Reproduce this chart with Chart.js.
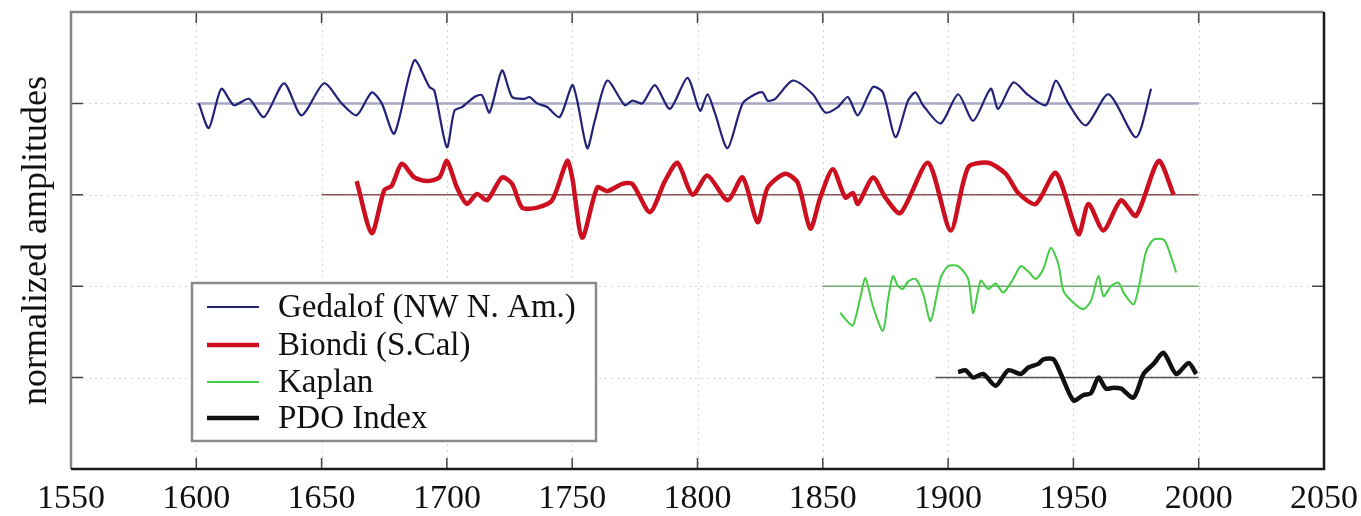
<!DOCTYPE html>
<html>
<head>
<meta charset="utf-8">
<script src="https://cdn.jsdelivr.net/npm/chart.js@4"></script>
<style>
  html, body { margin: 0; padding: 0; background: #fff; }
  #wrap { width: 1361px; height: 516px; }
</style>
</head>
<body>
<div id="wrap"><canvas id="pdoChart" width="1361" height="516"></canvas></div>
<script>
// ---- Data ----

const xTickValues = [1550, 1600, 1650, 1700, 1750, 1800, 1850, 1900, 1950, 2000, 2050];
const yTickValues = [0, 1, 2, 3];

const seriesLabels = ['Gedalof (NW N. Am.)', 'Biondi (S.Cal)', 'Kaplan', 'PDO Index'];
const seriesOffsets = [3, 2, 1, 0];
const baselineStart = [1600, 1650, 1850, 1895];
const baselineEnd = [2000, 2000, 2000, 2000];

const gedalofYears = [1601, 1605, 1610, 1615, 1621, 1627, 1635, 1642, 1651, 1658, 1664, 1670, 1674, 1679,
  1687, 1693, 1695, 1700, 1703, 1706, 1711, 1714, 1717, 1722, 1726, 1731, 1733, 1736, 1740, 1745, 1750,
  1752, 1756, 1759, 1764, 1771, 1774, 1778, 1783, 1789, 1796, 1801, 1804, 1807, 1812, 1818, 1823, 1826,
  1828, 1831, 1838, 1846, 1851, 1856, 1860, 1864, 1870, 1874, 1879, 1884, 1887, 1890, 1897, 1904, 1910,
  1917, 1920, 1926, 1932, 1939, 1943, 1948, 1955, 1964, 1975, 1981];
const gedalofValues = [0.0, -0.27, 0.16, -0.02, 0.05, -0.15, 0.22, -0.13, 0.22, 0.0, -0.13, 0.12, 0.0, -0.33,
  0.47, 0.18, 0.14, -0.48, -0.08, -0.04, 0.07, 0.09, -0.10, 0.36, 0.07, 0.05, 0.07, 0.0, -0.04, -0.15, 0.20,
  0.03, -0.49, -0.19, 0.25, -0.02, 0.03, 0.0, 0.20, -0.06, 0.28, -0.08, 0.10, -0.11, -0.49, 0.0, 0.10, 0.12,
  0.03, 0.05, 0.25, 0.10, -0.10, -0.04, 0.07, -0.13, 0.18, 0.12, -0.37, 0.03, 0.12, -0.02, -0.22, 0.10, -0.19,
  0.16, -0.06, 0.23, 0.09, -0.02, 0.25, 0.0, -0.24, 0.10, -0.37, 0.16];

const biondiYears = [1664, 1670, 1675, 1678, 1682, 1687, 1692, 1697, 1700, 1704, 1708, 1712, 1716, 1722,
  1726, 1730, 1736, 1742, 1748, 1750, 1754, 1760, 1764, 1770, 1774, 1781, 1787, 1792, 1798, 1804, 1812,
  1818, 1824, 1828, 1835, 1840, 1845, 1849, 1854, 1859, 1862, 1864, 1870, 1875, 1881, 1892, 1901, 1908,
  1916, 1923, 1928, 1935, 1943, 1952, 1956, 1962, 1969, 1975, 1984, 1990];
const biondiValues = [0.15, -0.42, 0.05, 0.10, 0.34, 0.19, 0.15, 0.19, 0.37, 0.08, -0.10, 0.01, -0.06, 0.19,
  0.12, -0.14, -0.14, -0.06, 0.37, 0.19, -0.47, 0.08, 0.04, 0.12, 0.12, -0.19, 0.15, 0.35, 0.0, 0.21, -0.06,
  0.19, -0.30, 0.08, 0.23, 0.13, -0.37, -0.03, 0.28, -0.03, 0.02, -0.10, 0.19, -0.03, -0.20, 0.35, -0.39, 0.30,
  0.35, 0.23, 0.02, -0.10, 0.24, -0.43, -0.10, -0.39, -0.06, -0.23, 0.37, 0.0];

const kaplanYears = [1857, 1859, 1862, 1865, 1867, 1870, 1874, 1876, 1878, 1880, 1882, 1884, 1887, 1890, 1893,
  1897, 1900, 1904, 1908, 1910, 1913, 1916, 1919, 1922, 1926, 1929, 1932, 1935, 1938, 1941, 1944, 1946,
  1950, 1954, 1957, 1960, 1962, 1965, 1968, 1970, 1974, 1976, 1979, 1982, 1986, 1988, 1991];
const kaplanValues = [-0.29, -0.36, -0.43, -0.12, 0.09, -0.22, -0.49, -0.15, 0.11, 0.0, -0.03, 0.05, 0.08, -0.08,
  -0.38, 0.09, 0.22, 0.22, 0.08, -0.30, 0.06, -0.03, 0.03, -0.07, 0.08, 0.22, 0.16, 0.08, 0.19, 0.42, 0.24,
  -0.05, -0.18, -0.25, -0.16, 0.11, -0.11, 0.0, 0.04, -0.07, -0.20, -0.02, 0.38, 0.51, 0.51, 0.40, 0.15];

const pdoYears = [1904, 1907, 1910, 1914, 1919, 1924, 1929, 1932, 1936, 1938, 1942, 1945, 1950, 1954, 1957,
  1960, 1963, 1966, 1969, 1974, 1978, 1982, 1986, 1991, 1996, 1999];
const pdoValues = [0.06, 0.08, 0.0, 0.04, -0.09, 0.08, 0.04, 0.11, 0.15, 0.20, 0.20, 0.04, -0.25, -0.19, -0.17,
  0.0, -0.12, -0.11, -0.12, -0.22, 0.04, 0.15, 0.27, 0.04, 0.16, 0.04];

// ---- Styling ----

const SERIES_STYLE = [
  { color: '#222278', width: 2.2 },
  { color: '#cc1020', width: 4.5 },
  { color: '#44cc44', width: 2 },
  { color: '#111111', width: 4.5 },
];
const BASELINE_STYLE = [
  { color: '#a8a8c4', width: 2.5 },
  { color: '#8c5656', width: 1.5 },
  { color: '#70a870', width: 1.5 },
  { color: '#555555', width: 1.5 },
];
const SERIF = "'Liberation Serif', 'DejaVu Serif', serif";

const allYears = [gedalofYears, biondiYears, kaplanYears, pdoYears];
const allValues = [gedalofValues, biondiValues, kaplanValues, pdoValues];

const datasets = [];
allYears.forEach((years, i) => {
  datasets.push({
    label: seriesLabels[i],
    data: years.map((yr, j) => ({ x: yr, y: allValues[i][j] + seriesOffsets[i] })),
    borderColor: SERIES_STYLE[i].color,
    borderWidth: SERIES_STYLE[i].width,
    pointRadius: 0,
    tension: 0.25,
    fill: false,
    order: 0,
  });
});
seriesOffsets.forEach((off, i) => {
  datasets.push({
    label: seriesLabels[i] + ' baseline',
    data: [{ x: baselineStart[i], y: off }, { x: baselineEnd[i], y: off }],
    borderColor: BASELINE_STYLE[i].color,
    borderWidth: BASELINE_STYLE[i].width,
    pointRadius: 0,
    fill: false,
    order: 1,
  });
});

// grid, frame with inward ticks, and the boxed legend
const decorations = {
  id: 'decorations',
  beforeDatasetsDraw(chart) {
    const { ctx, chartArea: a, scales: { x, y } } = chart;
    ctx.save();
    ctx.strokeStyle = '#d4d4d4';
    ctx.lineWidth = 1;
    ctx.setLineDash([2, 4]);
    ctx.beginPath();
    xTickValues.forEach(v => {
      const px = Math.round(x.getPixelForValue(v)) + 0.5;
      ctx.moveTo(px, a.top); ctx.lineTo(px, a.bottom);
    });
    yTickValues.forEach(v => {
      const py = Math.round(y.getPixelForValue(v)) + 0.5;
      ctx.moveTo(a.left, py); ctx.lineTo(a.right, py);
    });
    ctx.stroke();
    ctx.restore();
  },
  afterDatasetsDraw(chart) {
    const { ctx, chartArea: a, scales: { x, y } } = chart;
    ctx.save();

    // inward tick marks
    ctx.strokeStyle = '#444';
    ctx.lineWidth = 1.5;
    ctx.beginPath();
    xTickValues.forEach(v => {
      const px = x.getPixelForValue(v);
      ctx.moveTo(px, a.bottom); ctx.lineTo(px, a.bottom - 11);
      ctx.moveTo(px, a.top); ctx.lineTo(px, a.top + 11);
    });
    yTickValues.forEach(v => {
      const py = y.getPixelForValue(v);
      ctx.moveTo(a.left, py); ctx.lineTo(a.left + 12, py);
      ctx.moveTo(a.right, py); ctx.lineTo(a.right - 12, py);
    });
    ctx.stroke();

    // frame: top/left grey, right/bottom dark
    ctx.lineWidth = 2.5;
    ctx.strokeStyle = '#858585';
    ctx.beginPath();
    ctx.moveTo(a.left, a.bottom); ctx.lineTo(a.left, a.top); ctx.lineTo(a.right, a.top);
    ctx.stroke();
    ctx.strokeStyle = '#1a1a1a';
    ctx.beginPath();
    ctx.moveTo(a.right, a.top); ctx.lineTo(a.right, a.bottom); ctx.lineTo(a.left, a.bottom);
    ctx.stroke();

    // legend box
    const box = { left: 192, top: 283, width: 404, height: 158 };
    ctx.fillStyle = '#fff';
    ctx.fillRect(box.left, box.top, box.width, box.height);
    ctx.strokeStyle = '#8a8a8a';
    ctx.lineWidth = 2.5;
    ctx.strokeRect(box.left, box.top, box.width, box.height);
    const rowY = [307, 345, 382, 418];
    ctx.font = `33px ${SERIF}`;
    ctx.textBaseline = 'middle';
    ctx.textAlign = 'left';
    seriesLabels.forEach((lab, i) => {
      ctx.strokeStyle = SERIES_STYLE[i].color;
      ctx.lineWidth = SERIES_STYLE[i].width;
      ctx.beginPath();
      ctx.moveTo(207, rowY[i]); ctx.lineTo(259, rowY[i]);
      ctx.stroke();
      ctx.fillStyle = '#111';
      ctx.fillText(lab, 278, rowY[i] + 1);
    });
    ctx.restore();
  }
};

new Chart(document.getElementById('pdoChart'), {
  type: 'line',
  data: { datasets },
  plugins: [decorations],
  options: {
    responsive: false,
    animation: false,
    devicePixelRatio: 1,
    layout: { padding: { top: 12, right: 37, left: 0, bottom: 0 } },
    plugins: { legend: { display: false }, tooltip: { enabled: false } },
    scales: {
      x: {
        type: 'linear',
        min: 1550,
        max: 2050,
        afterBuildTicks: s => { s.ticks = xTickValues.map(v => ({ value: v })); },
        afterFit: s => { s.height = 47; s.paddingLeft = 0; s.paddingRight = 0; },
        grid: { display: false, drawTicks: false },
        border: { display: false },
        ticks: {
          color: '#111',
          padding: 10,
          maxRotation: 0,
          callback: v => String(v),
          font: { family: SERIF, size: 34 },
        },
      },
      y: {
        type: 'linear',
        min: -1,
        max: 4,
        afterBuildTicks: s => { s.ticks = yTickValues.map(v => ({ value: v })); },
        afterFit: s => { s.width = 71; },
        grid: { display: false, drawTicks: false },
        border: { display: false },
        ticks: { display: false },
        title: {
          display: true,
          text: 'normalized amplitudes',
          color: '#111',
          font: { family: SERIF, size: 36 },
          padding: { top: 15, bottom: 0 },
        },
      },
    },
  },
});
</script>
</body>
</html>
